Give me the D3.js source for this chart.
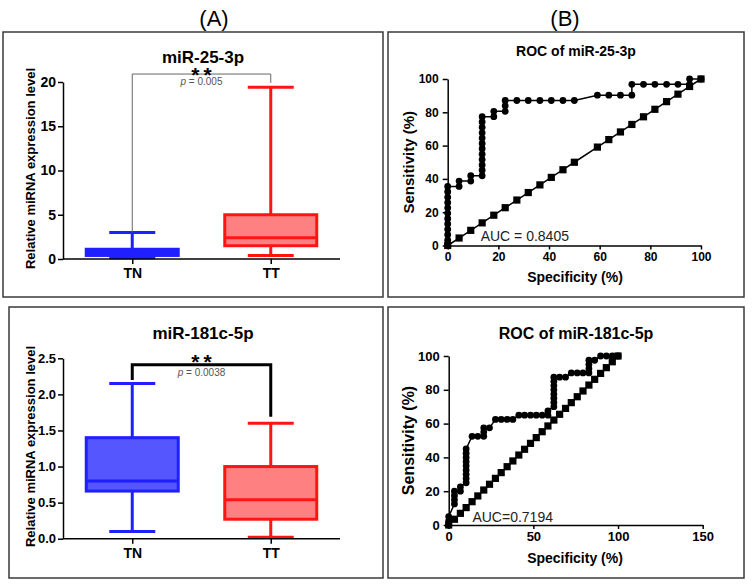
<!DOCTYPE html>
<html>
<head>
<meta charset="utf-8">
<script src="https://cdn.jsdelivr.net/npm/d3@7"></script>
<style>
  body { margin: 0; background: #fff; }
  svg { display: block; font-family: 'Liberation Sans', Arial, sans-serif; }
</style>
</head>
<body>
<div id="chart"></div>
<script>
// ---- data ----
const groups = ['TN', 'TT']

// miR-25-3p box stats (TN, TT)
const mir25Min = [0.15, 0.4]
const mir25Q1 = [0.4, 1.5]
const mir25Median = [0.7, 2.4]
const mir25Q3 = [1.1, 5.0]
const mir25Max = [3.0, 19.4]

// miR-181c-5p box stats (TN, TT)
const mir181Min = [0.1, 0.02]
const mir181Q1 = [0.66, 0.27]
const mir181Median = [0.8, 0.54]
const mir181Q3 = [1.4, 1.0]
const mir181Max = [2.15, 1.6]

const mir25Ticks = [0, 5, 10, 15, 20]
const mir181Ticks = [0, 0.5, 1.0, 1.5, 2.0, 2.5]

// ROC of miR-25-3p  (x = 100 - specificity, y = sensitivity)
const roc25X = [0, 0, 0, 0, 0, 0, 0, 0, 0, 0, 0, 0,
  4.5, 4.5, 9.1, 9.1,
  13.6, 13.6, 13.6, 13.6, 13.6, 13.6, 13.6, 13.6, 13.6, 13.6, 13.6, 13.6,
  18.2, 18.2, 22.7, 22.7, 22.7,
  27.3, 31.8, 36.4, 40.9, 45.5, 50,
  59.1, 63.6, 68.2, 72.7, 72.7,
  77.3, 81.8, 86.4, 90.9, 95.5, 95.5, 100]
const roc25Y = [0, 3.2, 6.5, 9.7, 12.9, 16.1, 19.4, 22.6, 25.8, 29, 32.3, 35.5,
  35.5, 38.7, 38.7, 41.9,
  41.9, 45.2, 48.4, 51.6, 54.8, 58.1, 61.3, 64.5, 67.7, 71, 74.2, 77.4,
  77.4, 80.6, 80.6, 83.9, 87.1,
  87.1, 87.1, 87.1, 87.1, 87.1, 87.1,
  90.3, 90.3, 90.3, 90.3, 96.8,
  96.8, 96.8, 96.8, 96.8, 96.8, 100, 100]
const diag25 = [0, 4.5, 9.1, 13.6, 18.2, 22.7, 27.3, 31.8, 36.4, 40.9, 45.5, 50,
  59.1, 63.6, 68.2, 72.7, 77.3, 81.8, 86.4, 90.9, 95.5, 100]

// ROC of miR-181c-5p
const roc181X = [0, 0, 0, 3.4, 3.4, 3.4, 3.4, 6.9, 6.9,
  10.3, 10.3, 10.3, 10.3, 10.3, 10.3, 10.3, 10.3, 10.3,
  13.8, 17.2, 20.7, 20.7, 20.7, 24.1,
  27.6, 31, 34.5, 37.9,
  41.4, 44.8, 48.3, 51.7, 55.2, 58.6, 58.6,
  62.1, 62.1, 62.1, 62.1, 62.1, 62.1, 62.1, 62.1,
  65.5, 69, 72.4, 75.9, 79.3, 82.8, 82.8, 82.8, 82.8, 86.2,
  89.7, 93.1, 96.6, 100]
const roc181Y = [0, 2.5, 5, 12.5, 15, 17.5, 20, 20, 22.5,
  25, 27.5, 30, 32.5, 35, 37.5, 40, 42.5, 45,
  52.5, 52.5, 52.5, 55, 57.5, 57.5,
  62.5, 62.5, 62.5, 62.5,
  65, 65, 65, 65, 65, 65, 67.5,
  70, 72.5, 75, 77.5, 80, 82.5, 85, 87.5,
  87.5, 87.5, 90, 90, 90, 90, 92.5, 95, 97.5, 97.5,
  100, 100, 100, 100]
const diag181 = [0, 3.4, 6.9, 10.3, 13.8, 17.2, 20.7, 24.1, 27.6, 31, 34.5, 37.9,
  41.4, 44.8, 48.3, 51.7, 55.2, 58.6, 62.1, 65.5, 69, 72.4, 75.9, 79.3, 82.8,
  86.2, 89.7, 93.1, 96.6, 100]

const rocTicks25 = [0, 20, 40, 60, 80, 100]
const rocTicks181X = [0, 50, 100, 150]
const rocTicksY = [0, 20, 40, 60, 80, 100]

// ---- drawing ----
const width = 752
const height = 587
const blue = { stroke: '#1f1fff', fill: '#5656ff' }
const red = { stroke: '#ff1414', fill: '#ff8080' }
const colors = [blue, red]

const svg = d3.select('#chart')
  .append('svg')
  .attr('width', width)
  .attr('height', height)

svg.append('rect').attr('width', width).attr('height', height).attr('fill', '#fff')

// panel frames
const frames = [[3, 32, 380, 265], [388, 32, 356, 265], [9, 307, 374, 271], [388, 307, 356, 271]]
svg.selectAll('rect.frame')
  .data(frames)
  .join('rect')
  .attr('class', 'frame')
  .attr('x', d => d[0]).attr('y', d => d[1])
  .attr('width', d => d[2]).attr('height', d => d[3])
  .attr('fill', 'none')
  .attr('stroke', '#3a3a3a')
  .attr('stroke-width', 1.5)

svg.append('text').attr('x', 214).attr('y', 26).attr('text-anchor', 'middle')
  .attr('font-size', 22).text('(A)')
svg.append('text').attr('x', 565).attr('y', 26).attr('text-anchor', 'middle')
  .attr('font-size', 22).text('(B)')

function styleAxis (g, size) {
  g.selectAll('path, line').attr('stroke', '#000').attr('stroke-width', 1.5)
  g.selectAll('text').attr('font-size', size).attr('font-weight', 'bold').attr('fill', '#000')
    .attr('font-family', "'Liberation Sans', Arial, sans-serif")
}

function boxPanel (opt) {
  const x = d3.scalePoint().domain(groups).range([63, 340]).padding(0.5)
  const y = d3.scaleLinear().domain(opt.domain).range(opt.yRange)

  const g = svg.append('g')

  g.append('text')
    .attr('x', 203).attr('y', opt.titleY)
    .attr('text-anchor', 'middle')
    .attr('font-size', 17).attr('font-weight', 'bold')
    .text(opt.title)

  g.append('text')
    .attr('transform', `translate(35,${(opt.yRange[0] + opt.yRange[1]) / 2 - 2}) rotate(-90)`)
    .attr('text-anchor', 'middle')
    .attr('font-size', 13).attr('font-weight', 'bold')
    .text('Relative miRNA expression level')

  // boxes
  groups.forEach((name, i) => {
    const cx = x(name)
    const c = colors[i]
    const bg = g.append('g').attr('stroke', c.stroke).attr('stroke-width', 3)
    bg.append('line').attr('x1', cx).attr('x2', cx)
      .attr('y1', y(opt.max[i])).attr('y2', y(opt.min[i]))
    bg.selectAll('line.cap')
      .data([opt.min[i], opt.max[i]])
      .join('line').attr('class', 'cap')
      .attr('x1', cx - 23).attr('x2', cx + 23)
      .attr('y1', d => y(d)).attr('y2', d => y(d))
    bg.append('rect')
      .attr('x', cx - 46).attr('width', 92)
      .attr('y', y(opt.q3[i])).attr('height', y(opt.q1[i]) - y(opt.q3[i]))
      .attr('fill', opt.solidTN && i === 0 ? c.stroke : c.fill)
    bg.append('line').attr('x1', cx - 46).attr('x2', cx + 46)
      .attr('y1', y(opt.median[i])).attr('y2', y(opt.median[i]))
  })

  // axes
  g.append('g')
    .attr('transform', 'translate(63,0)')
    .call(d3.axisLeft(y).tickValues(opt.ticks).tickFormat(opt.fmt).tickSize(5).tickPadding(2).tickSizeOuter(0))
    .call(a => styleAxis(a, opt.tickSize))
  g.append('g')
    .attr('transform', `translate(0,${opt.yRange[0]})`)
    .call(d3.axisBottom(x).tickSize(5).tickPadding(4).tickSizeOuter(0))
    .call(a => a.select('.domain').attr('d', `M63,0H340`))
    .call(a => styleAxis(a, 14))

  // significance bracket
  const b = opt.bracket
  g.append('path')
    .attr('d', `M${x('TN')},${y(b[1])}V${y(b[0])}H${x('TT')}V${y(b[2])}`)
    .attr('fill', 'none')
    .attr('stroke', opt.bracketColor)
    .attr('stroke-width', opt.bracketWidth)
  const mid = (x('TN') + x('TT')) / 2
  g.append('text')
    .attr('x', mid + 2).attr('y', y(b[0]) + opt.starDy)
    .attr('text-anchor', 'middle')
    .attr('font-size', 21).attr('font-weight', 'bold')
    .attr('letter-spacing', 4)
    .text('**')
  const pt = g.append('text')
    .attr('x', mid).attr('y', y(b[0]) + opt.pDy)
    .attr('text-anchor', 'middle')
    .attr('font-size', 10).attr('fill', '#555')
  pt.append('tspan').attr('font-style', 'italic').text('p')
  pt.append('tspan').text(' = ' + opt.p)
}

boxPanel({
  title: 'miR-25-3p', titleY: 63,
  domain: [0, 20], yRange: [259, 82],
  ticks: mir25Ticks, fmt: d3.format('d'), tickSize: 14,
  min: mir25Min, q1: mir25Q1, median: mir25Median, q3: mir25Q3, max: mir25Max,
  solidTN: true,
  bracket: [20.9, 3.0, 19.9], bracketColor: '#666', bracketWidth: 1,
  starDy: 8, pDy: 11, p: '0.005'
})

boxPanel({
  title: 'miR-181c-5p', titleY: 339,
  domain: [0, 2.5], yRange: [538.7, 358.3],
  ticks: mir181Ticks, fmt: d3.format('.1f'), tickSize: 13,
  min: mir181Min, q1: mir181Q1, median: mir181Median, q3: mir181Q3, max: mir181Max,
  solidTN: false,
  bracket: [2.41, 2.2, 1.69], bracketColor: '#000', bracketWidth: 3,
  starDy: 4, pDy: 11, p: '0.0038'
})

function rocPanel (opt) {
  const x = d3.scaleLinear().domain(opt.xDomain).range(opt.xRange)
  const y = d3.scaleLinear().domain([0, 100]).range(opt.yRange)
  const g = svg.append('g')

  g.append('text')
    .attr('x', 576).attr('y', opt.titleY)
    .attr('text-anchor', 'middle')
    .attr('font-size', opt.titleSize).attr('font-weight', 'bold')
    .text(opt.title)
  g.append('text')
    .attr('transform', `translate(414,${(opt.yRange[0] + opt.yRange[1]) / 2}) rotate(-90)`)
    .attr('text-anchor', 'middle')
    .attr('font-size', opt.yLabelSize).attr('font-weight', 'bold')
    .text('Sensitivity (%)')
  g.append('text')
    .attr('x', 575).attr('y', opt.xLabelY)
    .attr('text-anchor', 'middle')
    .attr('font-size', 14).attr('font-weight', 'bold')
    .text('Specificity (%)')

  g.append('g')
    .attr('transform', `translate(${opt.xRange[0]},0)`)
    .call(d3.axisLeft(y).tickValues(rocTicksY).tickSize(5).tickPadding(4).tickSizeOuter(0))
    .call(a => styleAxis(a, opt.tickFont))
  g.append('g')
    .attr('transform', `translate(0,${opt.yRange[0]})`)
    .call(d3.axisBottom(x).tickValues(opt.xTicks).tickSize(4).tickPadding(3).tickSizeOuter(0))
    .call(a => styleAxis(a, opt.tickFont))

  const line = d3.line().x(d => x(d[0])).y(d => y(d[1]))

  const diag = opt.diag.map(v => [v, v])
  g.append('path').datum(diag)
    .attr('d', line).attr('fill', 'none').attr('stroke', '#000').attr('stroke-width', 1.5)
  g.selectAll('rect.sq').data(diag).join('rect').attr('class', 'sq')
    .attr('x', d => x(d[0]) - 3.6).attr('y', d => y(d[1]) - 3.6)
    .attr('width', 7.2).attr('height', 7.2).attr('fill', '#000')

  const pts = opt.rx.map((v, i) => [v, opt.ry[i]])
  g.append('path').datum(pts)
    .attr('d', line).attr('fill', 'none').attr('stroke', '#000').attr('stroke-width', 1.5)
  g.selectAll('circle').data(pts).join('circle')
    .attr('cx', d => x(d[0])).attr('cy', d => y(d[1]))
    .attr('r', 3.4).attr('fill', '#000')

  g.append('text')
    .attr('x', x(opt.aucPos[0])).attr('y', y(opt.aucPos[1]))
    .attr('font-size', 14).attr('fill', '#222')
    .text(opt.auc)
}

rocPanel({
  title: 'ROC of miR-25-3p', titleY: 56, titleSize: 14, yLabelSize: 15,
  xDomain: [0, 100], xRange: [447.7, 701], yRange: [245.5, 79],
  xTicks: rocTicks25, tickFont: 12, xLabelY: 282,
  rx: roc25X, ry: roc25Y, diag: diag25,
  auc: 'AUC = 0.8405', aucPos: [13, 3]
})

rocPanel({
  title: 'ROC of miR-181c-5p', titleY: 339, titleSize: 16, yLabelSize: 16,
  xDomain: [0, 150], xRange: [448.7, 702.7], yRange: [525, 356],
  xTicks: rocTicks181X, tickFont: 13, xLabelY: 563,
  rx: roc181X, ry: roc181Y, diag: diag181,
  auc: 'AUC=0.7194', aucPos: [14, 1.5]
})
</script>
</body>
</html>
